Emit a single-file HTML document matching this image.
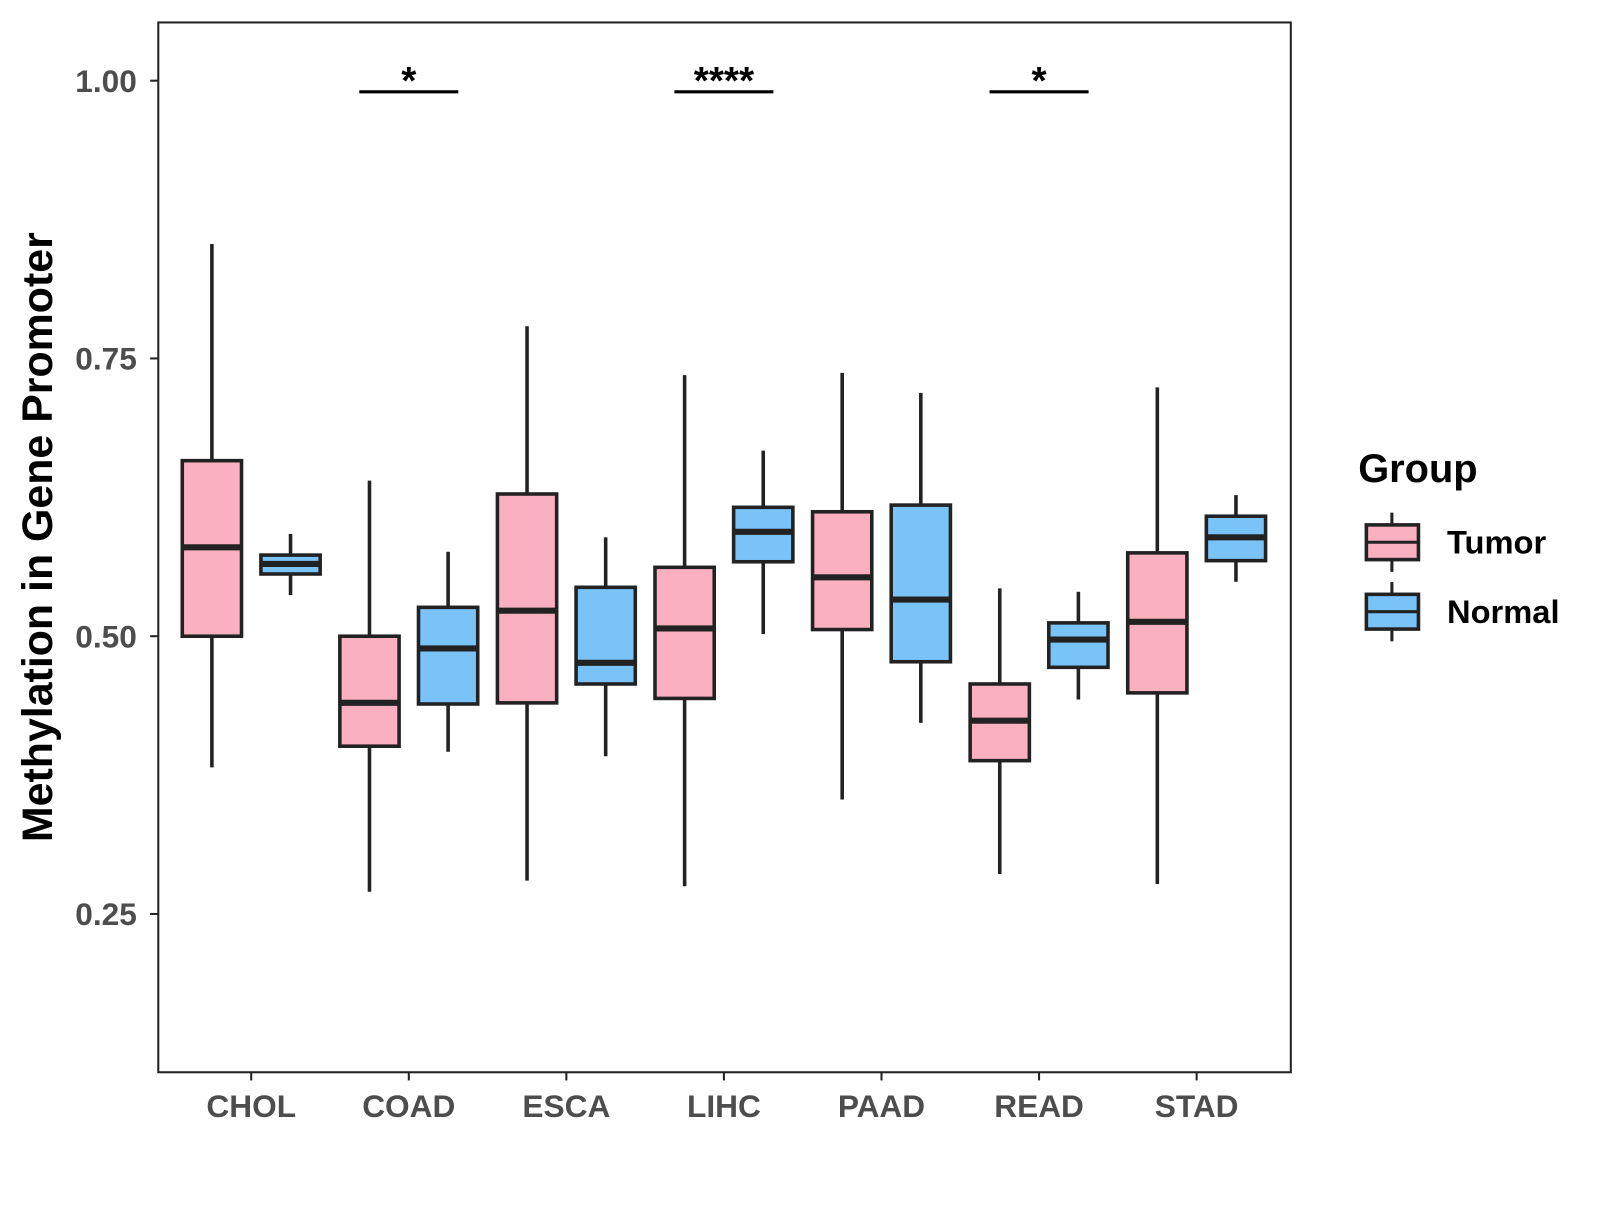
<!DOCTYPE html>
<html><head><meta charset="utf-8"><style>
body{margin:0;background:#fff;font-family:"Liberation Sans",Arial,sans-serif}
</style></head><body>
<svg width="1600" height="1200" xmlns="http://www.w3.org/2000/svg" font-family="Liberation Sans, Arial, sans-serif"><g id="chart" transform="scale(1.0212)"></g></svg>
<script>
const categories=["CHOL","COAD","ESCA","LIHC","PAAD","READ","STAD"];
// [low, q1, median, q3, high]
const tumorStats=[[0.382,0.5,0.580,0.658,0.853],[0.270,0.401,0.440,0.5,0.640],[0.280,0.440,0.523,0.628,0.779],[0.275,0.444,0.507,0.562,0.735],[0.353,0.506,0.553,0.612,0.737],[0.286,0.388,0.424,0.457,0.543],[0.277,0.449,0.513,0.575,0.724]];
const normalStats=[[0.537,0.556,0.565,0.573,0.592],[0.396,0.439,0.489,0.526,0.576],[0.392,0.457,0.476,0.544,0.589],[0.502,0.567,0.594,0.616,0.667],[0.422,0.477,0.533,0.618,0.719],[0.443,0.472,0.497,0.512,0.540],[0.549,0.568,0.589,0.608,0.627]];
const yTicks=[0.25,0.50,0.75,1.00];
const yTickLabels=["0.25","0.50","0.75","1.00"];
const sigCategories=["COAD","LIHC","READ"];
const sigLabels=["*","****","*"];
const sigLevel=0.99;

const svg=document.getElementById('chart');
const NS="http://www.w3.org/2000/svg";
const pL=155,pR=1264,pT=22,pB=1050;
const y=v=>79+(1-v)*1088;
const x0=246,step=154.3;
const x=i=>x0+i*step;
function mk(tag,attrs,parent){const e=document.createElementNS(NS,tag);for(const k in attrs)e.setAttribute(k,attrs[k]);(parent||svg).appendChild(e);return e;}
const S="#222";

let r=mk('rect',{x:pL,y:pT,width:pR-pL,height:pB-pT,fill:"none",stroke:S,"stroke-width":2});



yTicks.forEach((t,i)=>{
  let l=mk('line',{x1:pL-8,x2:pL,y1:y(t),y2:y(t),stroke:S,"stroke-width":2});
  
  
  let tx=mk('text',{x:pL-21,y:y(t)+11,"text-anchor":"end","font-size":31,"font-weight":"bold",fill:"#4d4d4d"});
  tx.textContent=yTickLabels[i];
  
  
});
categories.forEach((c,i)=>{
  let l=mk('line',{x1:x(i),x2:x(i),y1:pB,y2:pB+8,stroke:S,"stroke-width":2});
  
  
  let tx=mk('text',{x:x(i),y:pB+44,"text-anchor":"middle","font-size":31,"font-weight":"bold",fill:"#4d4d4d"});
  tx.textContent=c;
  
  
});
function box(cx,s,fill,name){
  const g=mk('g',{});
  
  
  const w=58;
  mk('line',{x1:cx,x2:cx,y1:y(s[4]),y2:y(s[3]),stroke:S,"stroke-width":3.5},g);
  mk('line',{x1:cx,x2:cx,y1:y(s[1]),y2:y(s[0]),stroke:S,"stroke-width":3.5},g);
  mk('rect',{x:cx-w/2,y:y(s[3]),width:w,height:y(s[1])-y(s[3]),fill:fill,stroke:S,"stroke-width":3.5},g);
  mk('line',{x1:cx-w/2,x2:cx+w/2,y1:y(s[2]),y2:y(s[2]),stroke:S,"stroke-width":6},g);
}
categories.forEach((c,i)=>{
  box(x(i)-38.5,tumorStats[i],"#fbb0c1","box-tumor-"+c.toLowerCase());
  box(x(i)+38.5,normalStats[i],"#79c3f9","box-normal-"+c.toLowerCase());
});
sigCategories.forEach((c,k)=>{
  const i=categories.indexOf(c);
  let l=mk('line',{x1:x(i)-48.5,x2:x(i)+48.5,y1:y(sigLevel),y2:y(sigLevel),stroke:"#000","stroke-width":3});
  
  
  let t=mk('text',{x:x(i),y:y(sigLevel)+2,"text-anchor":"middle","font-size":38,"font-weight":"bold",fill:"#000"});
  t.textContent=sigLabels[k];
  
  
});
let yt=mk('text',{x:51,y:526,"text-anchor":"middle","font-size":42,"font-weight":"bold",fill:"#000",transform:"rotate(-90 51 526)"});
yt.textContent="Methylation in Gene Promoter";


let lt=mk('text',{x:1330,y:472,"font-size":39,"font-weight":"bold",fill:"#000"});
lt.textContent="Group";


[["Tumor","#fbb0c1",531],["Normal","#79c3f9",599]].forEach(([n,f,cy])=>{
  const g=mk('g',{});
  
  
  mk('line',{x1:1363,x2:1363,y1:cy-29,y2:cy+29,stroke:S,"stroke-width":3},g);
  mk('rect',{x:1338,y:cy-17,width:51,height:34,fill:f,stroke:S,"stroke-width":3.5},g);
  mk('line',{x1:1338,x2:1389,y1:cy,y2:cy,stroke:S,"stroke-width":3},g);
  const t=mk('text',{x:1417,y:cy+11,"font-size":32,"font-weight":"bold",fill:"#000"},g);
  t.textContent=n;
});
</script>
</body></html>
